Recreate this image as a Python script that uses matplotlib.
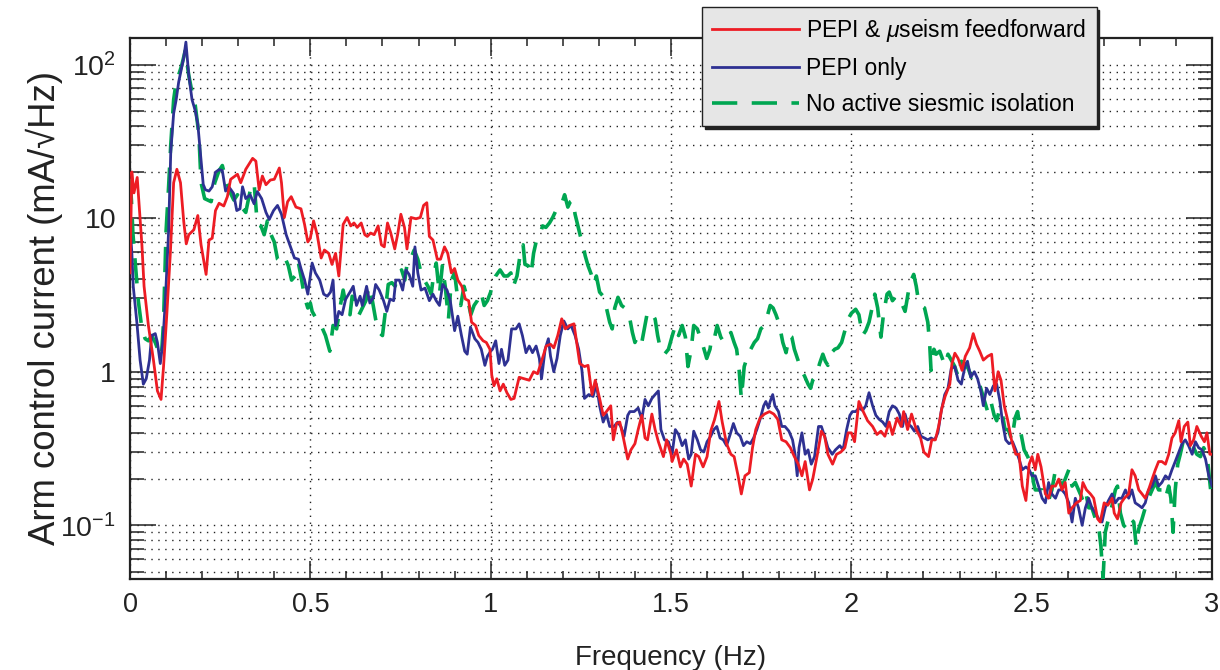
import numpy as np
import matplotlib
matplotlib.use("Agg")
import matplotlib.pyplot as plt
from matplotlib.ticker import FixedLocator, LogLocator, FuncFormatter, MultipleLocator, NullFormatter

plt.rcParams['font.family'] = ['Liberation Sans', 'DejaVu Sans']
plt.rcParams['mathtext.fontset'] = 'custom'
plt.rcParams['mathtext.rm'] = 'Liberation Sans'
plt.rcParams['mathtext.it'] = 'Liberation Sans:italic'

# PEPI & useism feedforward (red)
f_red = [0.0, 0.005, 0.011, 0.02, 0.033, 0.039, 0.051, 0.065, 0.076, 0.086, 0.093, 0.102, 0.112, 0.121, 0.13,
         0.14, 0.149, 0.156, 0.163, 0.177, 0.188, 0.197, 0.211, 0.219, 0.228, 0.237, 0.247, 0.26, 0.27, 0.279,
         0.298, 0.307, 0.321, 0.34, 0.349, 0.358, 0.367, 0.377, 0.389, 0.4, 0.414, 0.42, 0.428, 0.437, 0.447,
         0.46, 0.474, 0.484, 0.493, 0.5, 0.509, 0.519, 0.53, 0.539, 0.551, 0.56, 0.57, 0.579, 0.591, 0.602,
         0.612, 0.621, 0.63, 0.641, 0.651, 0.658, 0.667, 0.677, 0.688, 0.697, 0.705, 0.714, 0.723, 0.734, 0.742,
         0.751, 0.761, 0.768, 0.779, 0.793, 0.805, 0.814, 0.823, 0.83, 0.84, 0.852, 0.861, 0.872, 0.881, 0.891,
         0.9, 0.909, 0.92, 0.93, 0.939, 0.947, 0.958, 0.967, 0.979, 0.988, 0.998, 1.003, 1.009, 1.017, 1.026,
         1.035, 1.045, 1.056, 1.065, 1.079, 1.093, 1.107, 1.119, 1.13, 1.142, 1.154, 1.166, 1.175, 1.186, 1.197,
         1.207, 1.219, 1.231, 1.24, 1.247, 1.26, 1.27, 1.281, 1.29, 1.302, 1.312, 1.321, 1.333, 1.34, 1.349,
         1.358, 1.367, 1.38, 1.389, 1.4, 1.409, 1.419, 1.428, 1.435, 1.447, 1.456, 1.465, 1.479, 1.488, 1.5,
         1.503, 1.515, 1.526, 1.535, 1.545, 1.556, 1.568, 1.577, 1.589, 1.6, 1.61, 1.621, 1.633, 1.642, 1.654,
         1.666, 1.675, 1.686, 1.695, 1.705, 1.717, 1.726, 1.735, 1.747, 1.759, 1.773, 1.785, 1.796, 1.807, 1.819,
         1.831, 1.842, 1.853, 1.863, 1.872, 1.884, 1.893, 1.906, 1.917, 1.926, 1.935, 1.948, 1.959, 1.971, 1.982,
         1.991, 2.0, 2.009, 2.021, 2.033, 2.045, 2.059, 2.071, 2.082, 2.093, 2.105, 2.114, 2.127, 2.138, 2.145,
         2.156, 2.167, 2.18, 2.192, 2.201, 2.214, 2.223, 2.233, 2.242, 2.251, 2.26, 2.273, 2.279, 2.287, 2.296,
         2.307, 2.316, 2.328, 2.338, 2.347, 2.356, 2.366, 2.378, 2.389, 2.398, 2.407, 2.415, 2.424, 2.433, 2.444,
         2.456, 2.465, 2.474, 2.484, 2.493, 2.501, 2.51, 2.517, 2.526, 2.538, 2.547, 2.556, 2.566, 2.575, 2.584,
         2.593, 2.603, 2.612, 2.624, 2.635, 2.642, 2.652, 2.663, 2.672, 2.683, 2.69, 2.701, 2.711, 2.723, 2.729,
         2.738, 2.748, 2.757, 2.769, 2.778, 2.787, 2.797, 2.806, 2.815, 2.824, 2.834, 2.843, 2.852, 2.861, 2.871,
         2.88, 2.889, 2.898, 2.908, 2.914, 2.923, 2.933, 2.94, 2.949, 2.958, 2.97, 2.979, 2.986, 2.994, 3.0]
v_red = [4.4, 20, 14.6, 18.4, 6.7, 3.6, 2.0, 1.19, 0.75, 0.66, 1.08, 2.35, 6.0, 17, 20.8,
         17, 9.5, 6.8, 7.8, 8.4, 10.4, 6.7, 4.3, 7.2, 7.4, 11.2, 12.5, 12, 13.8, 17.9,
         19.3, 17, 20.8, 24.5, 23.5, 15.3, 18.8, 16.5, 17.7, 17.9, 21.2, 17, 10.1, 12.8, 13.8,
         11.8, 11.5, 9.1, 7.0, 7.4, 9.6, 7.8, 5.5, 6.2, 5.9, 5.0, 5.9, 4.2, 9.1, 10.1,
         8.9, 9.3, 8.7, 9.3, 7.8, 7.6, 8.0, 7.8, 8.9, 6.7, 6.5, 9.3, 8.0, 6.3, 7.8,
         10.6, 8.7, 6.3, 10.1, 9.9, 10.1, 12.1, 12.6, 7.6, 7.2, 5.4, 5.4, 6.5, 5.9, 4.4,
         4.7, 3.95, 3.6, 2.97, 2.9, 2.1, 2.0, 1.72, 1.59, 1.55, 1.40, 0.95, 0.81, 0.90, 0.75,
         0.83, 0.73, 0.66, 0.67, 0.92, 0.90, 0.88, 1.0, 0.97, 1.19, 1.47, 1.51, 1.43, 1.72, 2.21,
         1.90, 2.0, 2.05, 1.47, 1.13, 1.08, 1.10, 0.71, 0.88, 0.67, 0.52, 0.55, 0.60, 0.36, 0.46,
         0.47, 0.38, 0.27, 0.31, 0.34, 0.42, 0.52, 0.37, 0.36, 0.53, 0.42, 0.35, 0.28, 0.36, 0.29,
         0.26, 0.31, 0.24, 0.27, 0.25, 0.18, 0.29, 0.28, 0.24, 0.28, 0.41, 0.49, 0.64, 0.47, 0.34,
         0.29, 0.28, 0.21, 0.16, 0.21, 0.22, 0.32, 0.42, 0.50, 0.53, 0.55, 0.53, 0.49, 0.36, 0.35,
         0.32, 0.28, 0.25, 0.21, 0.26, 0.17, 0.20, 0.29, 0.41, 0.38, 0.29, 0.25, 0.29, 0.30, 0.32,
         0.40, 0.40, 0.35, 0.64, 0.55, 0.48, 0.44, 0.39, 0.41, 0.38, 0.47, 0.39, 0.50, 0.44, 0.55,
         0.42, 0.53, 0.42, 0.37, 0.30, 0.28, 0.36, 0.36, 0.44, 0.58, 0.69, 0.83, 1.13, 1.32, 1.22,
         1.02, 1.26, 1.43, 1.77, 1.51, 1.36, 1.19, 1.26, 1.30, 0.75, 1.0, 0.88, 0.60, 0.49, 0.36,
         0.29, 0.29, 0.18, 0.145, 0.25, 0.28, 0.23, 0.29, 0.24, 0.16, 0.15, 0.18, 0.18, 0.20, 0.17,
         0.19, 0.12, 0.13, 0.14, 0.145, 0.19, 0.17, 0.16, 0.15, 0.11, 0.105, 0.14, 0.135, 0.15, 0.12,
         0.11, 0.14, 0.15, 0.16, 0.23, 0.21, 0.17, 0.16, 0.15, 0.17, 0.20, 0.23, 0.26, 0.26, 0.25,
         0.29, 0.37, 0.40, 0.48, 0.35, 0.44, 0.47, 0.33, 0.36, 0.44, 0.38, 0.35, 0.40, 0.29, 0.29]

# PEPI only (blue)
f_blue = [0.0, 0.005, 0.009, 0.019, 0.028, 0.037, 0.045, 0.054, 0.06, 0.07, 0.076, 0.084, 0.091, 0.098, 0.107,
          0.113, 0.121, 0.128, 0.135, 0.141, 0.149, 0.155, 0.163, 0.172, 0.181, 0.188, 0.195, 0.203, 0.209, 0.219,
          0.228, 0.237, 0.247, 0.256, 0.265, 0.274, 0.287, 0.296, 0.305, 0.312, 0.321, 0.333, 0.344, 0.353, 0.365,
          0.377, 0.386, 0.398, 0.409, 0.42, 0.433, 0.445, 0.456, 0.467, 0.474, 0.484, 0.493, 0.5, 0.505, 0.514,
          0.526, 0.537, 0.547, 0.556, 0.563, 0.57, 0.579, 0.588, 0.598, 0.61, 0.619, 0.628, 0.638, 0.644, 0.656,
          0.665, 0.675, 0.681, 0.691, 0.703, 0.712, 0.721, 0.731, 0.737, 0.747, 0.756, 0.765, 0.774, 0.784, 0.79,
          0.798, 0.807, 0.818, 0.83, 0.84, 0.849, 0.858, 0.867, 0.879, 0.888, 0.9, 0.909, 0.919, 0.928, 0.935,
          0.944, 0.956, 0.965, 0.974, 0.984, 0.991, 1.0, 1.005, 1.014, 1.023, 1.03, 1.039, 1.048, 1.058, 1.07,
          1.079, 1.088, 1.098, 1.107, 1.116, 1.126, 1.135, 1.141, 1.151, 1.16, 1.166, 1.175, 1.184, 1.193, 1.203,
          1.214, 1.223, 1.234, 1.244, 1.253, 1.26, 1.272, 1.284, 1.293, 1.302, 1.312, 1.321, 1.33, 1.342, 1.352,
          1.361, 1.37, 1.38, 1.386, 1.398, 1.409, 1.419, 1.428, 1.437, 1.447, 1.456, 1.465, 1.472, 1.482, 1.493,
          1.503, 1.512, 1.521, 1.531, 1.54, 1.549, 1.556, 1.563, 1.573, 1.582, 1.591, 1.6, 1.61, 1.619, 1.627,
          1.636, 1.645, 1.654, 1.664, 1.673, 1.682, 1.692, 1.701, 1.71, 1.72, 1.729, 1.738, 1.747, 1.757, 1.763,
          1.77, 1.775, 1.782, 1.788, 1.798, 1.807, 1.816, 1.827, 1.837, 1.844, 1.85, 1.855, 1.863, 1.872, 1.88,
          1.889, 1.898, 1.909, 1.917, 1.926, 1.935, 1.947, 1.956, 1.968, 1.977, 1.987, 1.996, 2.003, 2.012, 2.021,
          2.031, 2.04, 2.049, 2.059, 2.068, 2.077, 2.087, 2.096, 2.105, 2.114, 2.124, 2.133, 2.142, 2.149, 2.156,
          2.166, 2.175, 2.184, 2.193, 2.203, 2.212, 2.221, 2.231, 2.24, 2.249, 2.259, 2.268, 2.277, 2.287, 2.296,
          2.305, 2.315, 2.322, 2.331, 2.341, 2.35, 2.359, 2.366, 2.375, 2.384, 2.394, 2.403, 2.412, 2.419, 2.428,
          2.437, 2.447, 2.456, 2.465, 2.474, 2.484, 2.493, 2.501, 2.51, 2.519, 2.529, 2.538, 2.547, 2.556, 2.566,
          2.575, 2.584, 2.593, 2.603, 2.612, 2.621, 2.63, 2.64, 2.649, 2.658, 2.667, 2.677, 2.686, 2.695, 2.704,
          2.713, 2.723, 2.732, 2.741, 2.75, 2.76, 2.769, 2.778, 2.787, 2.797, 2.806, 2.815, 2.824, 2.834, 2.843,
          2.852, 2.861, 2.871, 2.88, 2.889, 2.898, 2.908, 2.917, 2.926, 2.935, 2.945, 2.954, 2.963, 2.972, 2.982,
          2.991, 3.0]
v_blue = [9.0, 6.0, 3.6, 2.1, 1.19, 0.83, 0.90, 1.19, 1.72, 1.77, 1.55, 1.13, 1.55, 2.9, 8.2,
          27, 48, 59, 77, 90, 111, 140, 85, 59, 50, 41, 27, 16.6, 15.3, 15.0,
          16, 19.9, 20.7, 20.4, 15, 16, 14.5, 11.2, 11.5, 16, 13.4, 14.2, 12.4, 14.9, 13.4,
          10.9, 9.8, 11.2, 12.1, 10.6, 7.8, 6.5, 5.5, 5.4, 4.7, 3.95, 3.2, 4.2, 5.1, 4.4,
          3.95, 3.2, 3.1, 3.3, 3.95, 2.0, 2.47, 2.35, 2.97, 3.3, 3.6, 2.7, 3.1, 2.7, 3.6,
          2.8, 3.05, 3.7, 3.4, 2.9, 2.47, 2.97, 2.9, 3.95, 3.95, 3.4, 4.6, 4.3, 3.6, 6.5,
          4.4, 3.4, 3.5, 2.9, 3.2, 2.9, 2.7, 3.7, 3.4, 2.9, 1.85, 2.3, 1.72, 1.36, 1.30,
          1.95, 1.64, 1.55, 1.40, 1.10, 1.26, 1.36, 1.40, 1.59, 1.13, 1.40, 1.10, 1.19, 1.90, 1.90,
          2.05, 1.72, 1.33, 1.47, 1.33, 1.47, 1.22, 0.90, 1.40, 1.64, 1.26, 1.0, 1.22, 1.72, 2.14,
          1.90, 2.0, 1.72, 1.40, 1.02, 0.67, 0.71, 0.69, 0.83, 0.60, 0.47, 0.53, 0.44, 0.44, 0.47,
          0.44, 0.38, 0.52, 0.55, 0.55, 0.58, 0.49, 0.66, 0.60, 0.67, 0.71, 0.75, 0.42, 0.36, 0.35,
          0.29, 0.42, 0.39, 0.33, 0.36, 0.27, 0.29, 0.41, 0.36, 0.31, 0.30, 0.35, 0.38, 0.42, 0.44,
          0.37, 0.36, 0.33, 0.39, 0.46, 0.40, 0.38, 0.33, 0.35, 0.34, 0.37, 0.42, 0.49, 0.60, 0.64,
          0.58, 0.64, 0.71, 0.60, 0.55, 0.44, 0.44, 0.41, 0.36, 0.29, 0.21, 0.32, 0.40, 0.29, 0.31,
          0.25, 0.28, 0.44, 0.44, 0.38, 0.32, 0.29, 0.31, 0.33, 0.31, 0.42, 0.52, 0.55, 0.55, 0.58,
          0.56, 0.60, 0.73, 0.60, 0.52, 0.49, 0.47, 0.44, 0.55, 0.60, 0.58, 0.53, 0.44, 0.53, 0.46,
          0.44, 0.41, 0.44, 0.38, 0.37, 0.36, 0.37, 0.36, 0.40, 0.55, 0.71, 0.78, 1.05, 1.08, 0.88,
          0.83, 1.08, 1.17, 0.92, 1.0, 0.90, 0.75, 0.60, 0.78, 0.71, 0.81, 0.83, 0.64, 0.47, 0.36,
          0.34, 0.35, 0.31, 0.27, 0.23, 0.24, 0.23, 0.21, 0.21, 0.18, 0.15, 0.14, 0.19, 0.16, 0.15,
          0.17, 0.17, 0.16, 0.14, 0.105, 0.15, 0.13, 0.10, 0.13, 0.15, 0.13, 0.12, 0.11, 0.105, 0.13,
          0.145, 0.16, 0.14, 0.15, 0.15, 0.17, 0.15, 0.17, 0.14, 0.135, 0.13, 0.14, 0.17, 0.18, 0.21,
          0.18, 0.19, 0.21, 0.20, 0.23, 0.26, 0.30, 0.34, 0.36, 0.33, 0.29, 0.35, 0.32, 0.31, 0.27,
          0.21, 0.18]

# No active seismic isolation (green, dashed)
f_green = [0.0, 0.004, 0.008, 0.017, 0.023, 0.033, 0.042, 0.051, 0.06, 0.07, 0.079, 0.087, 0.093, 0.1, 0.107,
           0.113, 0.121, 0.128, 0.138, 0.144, 0.153, 0.163, 0.172, 0.181, 0.191, 0.197, 0.207, 0.216, 0.225, 0.235,
           0.247, 0.256, 0.268, 0.279, 0.288, 0.298, 0.309, 0.321, 0.333, 0.344, 0.353, 0.363, 0.372, 0.381, 0.391,
           0.4, 0.409, 0.42, 0.43, 0.439, 0.448, 0.458, 0.467, 0.476, 0.484, 0.493, 0.5, 0.505, 0.517, 0.528,
           0.542, 0.554, 0.563, 0.573, 0.582, 0.591, 0.6, 0.61, 0.616, 0.626, 0.635, 0.644, 0.654, 0.663, 0.672,
           0.681, 0.691, 0.7, 0.707, 0.716, 0.726, 0.735, 0.744, 0.753, 0.762, 0.77, 0.779, 0.788, 0.798, 0.807,
           0.816, 0.826, 0.835, 0.842, 0.849, 0.858, 0.866, 0.874, 0.883, 0.891, 0.9, 0.907, 0.917, 0.926, 0.935,
           0.945, 0.954, 0.963, 0.973, 0.982, 0.991, 1.0, 1.005, 1.014, 1.026, 1.037, 1.047, 1.056, 1.063, 1.073,
           1.084, 1.09, 1.095, 1.104, 1.112, 1.119, 1.126, 1.135, 1.144, 1.153, 1.163, 1.172, 1.181, 1.191, 1.197,
           1.205, 1.214, 1.221, 1.228, 1.234, 1.242, 1.249, 1.256, 1.262, 1.27, 1.279, 1.287, 1.293, 1.302, 1.312,
           1.321, 1.33, 1.337, 1.344, 1.353, 1.363, 1.372, 1.38, 1.386, 1.393, 1.4, 1.409, 1.419, 1.426, 1.435,
           1.447, 1.456, 1.463, 1.472, 1.482, 1.493, 1.503, 1.512, 1.521, 1.531, 1.54, 1.547, 1.556, 1.563, 1.573,
           1.582, 1.589, 1.599, 1.608, 1.614, 1.621, 1.628, 1.638, 1.647, 1.656, 1.666, 1.675, 1.682, 1.689, 1.695,
           1.703, 1.712, 1.721, 1.731, 1.74, 1.749, 1.759, 1.768, 1.775, 1.783, 1.791, 1.8, 1.81, 1.819, 1.828,
           1.835, 1.842, 1.852, 1.861, 1.87, 1.88, 1.887, 1.893, 1.903, 1.912, 1.921, 1.928, 1.935, 1.945, 1.954,
           1.963, 1.973, 1.982, 1.991, 2.0, 2.012, 2.021, 2.031, 2.04, 2.049, 2.059, 2.065, 2.073, 2.082, 2.089,
           2.099, 2.105, 2.114, 2.124, 2.133, 2.142, 2.149, 2.158, 2.166, 2.173, 2.18, 2.186, 2.193, 2.203, 2.212,
           2.217, 2.221, 2.229, 2.235, 2.245, 2.254, 2.26, 2.268, 2.277, 2.287, 2.296, 2.305, 2.315, 2.324, 2.333,
           2.342, 2.352, 2.361, 2.368, 2.378, 2.387, 2.396, 2.403, 2.412, 2.419, 2.426, 2.435, 2.445, 2.454, 2.461,
           2.47, 2.479, 2.489, 2.498, 2.505, 2.51, 2.519, 2.529, 2.538, 2.547, 2.556, 2.566, 2.575, 2.584, 2.593,
           2.603, 2.612, 2.621, 2.63, 2.64, 2.649, 2.658, 2.667, 2.677, 2.686, 2.692, 2.698, 2.704, 2.713, 2.723,
           2.732, 2.738, 2.746, 2.755, 2.764, 2.774, 2.783, 2.79, 2.797, 2.806, 2.815, 2.824, 2.834, 2.843, 2.852,
           2.861, 2.871, 2.88, 2.886, 2.892, 2.898, 2.905, 2.912, 2.921, 2.931, 2.94, 2.949, 2.958, 2.968, 2.977,
           2.986, 2.994, 3.0]
v_green = [18, 13, 8.0, 4.4, 2.9, 1.9, 1.64, 1.59, 1.72, 1.55, 1.36, 1.26, 2.1, 8.2, 16,
           30, 59, 77, 90, 100, 123, 85, 66, 54, 35, 17, 13.4, 13.1, 12.8, 17,
           20.4, 22, 17, 14.5, 13.1, 14.2, 11.8, 10.9, 15, 17, 9.1, 8.9, 7.8, 9.6, 7.8,
           7.0, 5.4, 5.1, 5.5, 4.9, 3.95, 4.2, 5.1, 3.95, 3.05, 2.6, 2.8, 2.47, 2.2, 2.05,
           1.72, 1.36, 2.0, 1.90, 2.6, 3.4, 2.6, 2.35, 3.1, 2.9, 2.35, 2.6, 2.9, 3.6, 2.9,
           2.2, 1.8, 1.72, 2.35, 3.7, 3.8, 3.6, 4.3, 4.6, 3.95, 5.4, 5.5, 6.2, 5.4, 4.4,
           3.95, 3.6, 3.2, 4.3, 5.1, 3.2, 4.9, 3.6, 2.2, 3.95, 4.4, 3.2, 2.7, 3.6, 3.05,
           2.35, 2.7, 2.9, 3.3, 2.7, 2.9, 3.3, 3.75, 4.2, 4.6, 4.2, 4.2, 4.4, 3.6, 4.2,
           6.3, 6.7, 5.0, 4.9, 4.3, 5.9, 7.0, 7.6, 8.9, 8.7, 9.3, 10.1, 11.2, 11.5, 12.4,
           14.2, 11.8, 12.8, 13.1, 10.6, 8.9, 7.6, 6.7, 5.7, 4.9, 4.3, 3.7, 4.2, 3.3, 3.1,
           2.6, 2.1, 1.90, 2.6, 3.05, 2.7, 2.6, 2.35, 2.2, 1.8, 1.55, 1.72, 1.55, 1.90, 2.47,
           2.4, 2.2, 1.72, 1.36, 1.30, 1.40, 1.7, 2.0, 1.72, 2.0, 1.68, 1.08, 1.40, 2.0, 1.90,
           1.64, 1.47, 1.22, 1.40, 1.72, 1.68, 2.0, 1.68, 1.55, 1.64, 1.8, 1.55, 1.40, 1.02, 0.67,
           1.08, 1.26, 1.40, 1.55, 1.64, 1.90, 2.0, 2.35, 2.7, 2.6, 2.35, 2.05, 1.55, 1.33, 1.72,
           1.68, 1.40, 1.19, 1.02, 0.94, 0.83, 0.78, 0.88, 0.94, 1.13, 1.30, 1.17, 1.10, 1.33, 1.40,
           1.43, 1.55, 1.85, 2.2, 2.4, 2.55, 2.35, 1.72, 1.85, 2.1, 2.7, 3.2, 2.6, 1.68, 2.35,
           3.2, 3.3, 2.9, 3.1, 3.05, 2.7, 2.47, 3.3, 3.95, 4.3, 3.6, 2.9, 2.7, 2.6, 2.1,
           1.55, 1.02, 1.40, 1.30, 1.36, 1.19, 1.10, 1.30, 1.19, 1.08, 0.92, 1.17, 1.13, 1.05, 0.92,
           0.94, 0.88, 0.75, 0.66, 0.55, 0.64, 0.52, 0.48, 0.58, 0.53, 0.42, 0.42, 0.36, 0.50, 0.55,
           0.40, 0.31, 0.28, 0.25, 0.19, 0.17, 0.17, 0.17, 0.15, 0.145, 0.17, 0.23, 0.20, 0.18, 0.20,
           0.23, 0.18, 0.19, 0.17, 0.15, 0.17, 0.13, 0.13, 0.11, 0.097, 0.073, 0.045, 0.09, 0.11, 0.135,
           0.17, 0.18, 0.12, 0.10, 0.095, 0.11, 0.105, 0.073, 0.095, 0.11, 0.13, 0.15, 0.17, 0.19, 0.17,
           0.17, 0.15, 0.18, 0.15, 0.09, 0.17, 0.25, 0.29, 0.36, 0.35, 0.33, 0.32, 0.29, 0.28, 0.32,
           0.29, 0.19, 0.14]

labels = ["PEPI & $\\mu$seism feedforward", "PEPI only", "No active siesmic isolation"]
y_ticks = [0.1, 1, 10, 100]
y_ticklabels = ["$10^{-1}$", "1", "10", "$10^{2}$"]

fig = plt.figure(figsize=(12.2, 6.7), dpi=100)
ax = fig.add_axes([130 / 1220, 1 - 579 / 670, 1082 / 1220, 541.5 / 670])

ax.plot(f_green, v_green, color='#00a651', lw=2.6, dashes=(7, 4), label=labels[2], zorder=3)
ax.plot(f_blue, v_blue, color='#2e3192', lw=2.0, label=labels[1], zorder=4)
ax.plot(f_red, v_red, color='#ed1c24', lw=2.0, label=labels[0], zorder=5)

ax.set_yscale('log')
ax.set_xlim(0, 3)
ax.set_ylim(0.0447, 150)

ax.xaxis.set_major_locator(MultipleLocator(0.5))
ax.xaxis.set_minor_locator(MultipleLocator(0.1))
ax.xaxis.set_major_formatter(FuncFormatter(lambda x, p: ('%g' % x)))
ax.yaxis.set_major_locator(FixedLocator(y_ticks))
ax.yaxis.set_major_formatter(FuncFormatter(lambda y, p: y_ticklabels[y_ticks.index(y)] if y in y_ticks else ''))
ax.yaxis.set_minor_locator(LogLocator(base=10, subs=np.arange(2, 10), numticks=20))
ax.yaxis.set_minor_formatter(NullFormatter())

ax.tick_params(which='both', direction='in', top=True, right=True, width=1.1, colors='#222222')
ax.tick_params(axis='y', which='major', length=19, pad=10, labelsize=20.5)
ax.tick_params(axis='y', which='minor', length=10)
ax.tick_params(axis='x', which='major', length=13, pad=9, labelsize=19.5)
ax.tick_params(axis='x', which='minor', length=6)

ax.grid(True, axis='x', which='major', linestyle=(0, (1, 4)), color='#222222', lw=1.0)
ax.grid(True, axis='y', which='both', linestyle=(0, (1, 4)), color='#222222', lw=1.0)
ax.set_axisbelow(True)
for s in ax.spines.values():
    s.set_linewidth(1.6)
    s.set_color('#222222')

ax.set_xlabel("Frequency (Hz)", fontsize=20, labelpad=20, color='#222222')
ax.set_ylabel("Arm control current (mA/\u221aHz)", fontsize=26.3, labelpad=-2, color='#222222')

handles, labs = ax.get_legend_handles_labels()
order = [2, 1, 0]
leg = ax.legend([handles[i] for i in order], [labs[i] for i in order],
                loc='upper left', bbox_to_anchor=(702 / 1220, 1 - 7 / 670), bbox_transform=fig.transFigure,
                borderaxespad=0, fontsize=16.5, handlelength=3.8, handletextpad=0.3, labelspacing=0.55,
                borderpad=0.45, fancybox=False, framealpha=1, facecolor='#e6e6e6', edgecolor='#222222',
                shadow={'color': '#222222', 'alpha': 1.0})
leg.get_frame().set_linewidth(1.0)
leg.set_zorder(10)

fig.savefig("out.png", dpi=100)
